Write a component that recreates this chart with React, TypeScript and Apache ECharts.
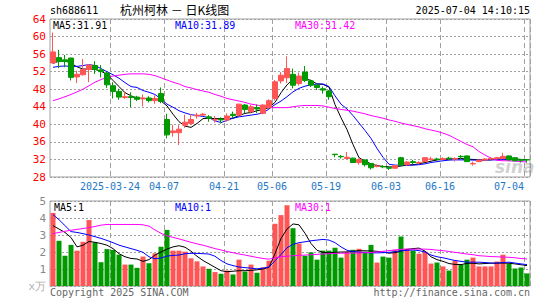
import React, { useEffect, useRef } from 'react';
import * as echarts from 'echarts';

// ---------- data ----------
const dates = [
  '2025-03-10','2025-03-11','2025-03-12','2025-03-13','2025-03-14','2025-03-17','2025-03-18','2025-03-19','2025-03-20','2025-03-21',
  '2025-03-24','2025-03-25','2025-03-26','2025-03-27','2025-03-28','2025-03-31','2025-04-01','2025-04-02','2025-04-03','2025-04-07',
  '2025-04-08','2025-04-09','2025-04-10','2025-04-11','2025-04-14','2025-04-15','2025-04-16','2025-04-17','2025-04-18','2025-04-21',
  '2025-04-22','2025-04-23','2025-04-24','2025-04-25','2025-04-28','2025-04-29','2025-04-30','2025-05-06','2025-05-07','2025-05-08',
  '2025-05-09','2025-05-12','2025-05-13','2025-05-14','2025-05-15','2025-05-16','2025-05-19','2025-05-20','2025-05-21','2025-05-22',
  '2025-05-23','2025-05-26','2025-05-27','2025-05-28','2025-05-29','2025-05-30','2025-06-03','2025-06-04','2025-06-05','2025-06-06',
  '2025-06-09','2025-06-10','2025-06-11','2025-06-12','2025-06-13','2025-06-16','2025-06-17','2025-06-18','2025-06-19','2025-06-20',
  '2025-06-23','2025-06-24','2025-06-25','2025-06-26','2025-06-27','2025-06-30','2025-07-01','2025-07-02','2025-07-03','2025-07-04',
];

// [open, close, low, high]
const ohlc = [
  [54.0, 56.5, 53.8, 60.9], [55.2, 54.3, 52.8, 57.0], [54.7, 54.3, 53.0, 55.8], [55.1, 50.7, 50.0, 55.2], [50.8, 51.4, 49.4, 52.2],
  [51.3, 52.5, 51.1, 54.9], [52.5, 53.5, 49.6, 53.7], [53.4, 52.5, 51.5, 54.4], [52.4, 52.0, 50.7, 53.5], [51.7, 49.0, 48.3, 52.0],
  [48.8, 47.5, 45.9, 49.6], [47.5, 46.2, 45.6, 48.1], [46.1, 46.3, 45.8, 47.5], [46.3, 46.1, 43.9, 47.3], [46.2, 45.7, 45.3, 46.5],
  [45.8, 46.0, 44.1, 46.8], [46.0, 45.4, 45.0, 46.4], [45.4, 45.9, 44.7, 46.6], [47.0, 45.2, 44.8, 48.4], [41.1, 37.6, 36.8, 42.4],
  [38.1, 38.5, 37.2, 39.9], [38.1, 38.9, 35.3, 39.8], [39.8, 40.5, 39.2, 42.2], [40.2, 41.1, 39.8, 42.4], [41.9, 42.1, 41.3, 42.6],
  [42.1, 42.3, 41.8, 42.6], [41.7, 41.4, 40.6, 42.1], [41.0, 41.1, 40.4, 41.9], [41.2, 41.0, 40.2, 41.6], [41.0, 41.9, 40.6, 42.5],
  [42.3, 42.0, 41.4, 42.9], [42.1, 44.6, 41.9, 44.7], [44.4, 43.4, 42.5, 44.6], [42.9, 44.0, 42.5, 44.4], [43.8, 43.5, 42.6, 44.5],
  [42.5, 44.4, 42.3, 44.6], [43.8, 45.4, 43.6, 45.7], [45.9, 49.7, 45.4, 50.1], [49.9, 51.2, 49.3, 51.9], [50.6, 52.7, 49.4, 55.5],
  [51.4, 48.9, 48.2, 52.7], [49.3, 51.0, 48.8, 51.8], [51.9, 50.0, 49.6, 53.3], [49.9, 48.9, 48.5, 50.2], [48.9, 48.4, 47.8, 49.3],
  [48.1, 47.8, 47.0, 48.6], [47.6, 46.3, 45.6, 47.8], [33.2, 33.1, 32.5, 33.2], [32.7, 32.6, 32.2, 33.0], [32.2, 32.5, 32.1, 33.7],
  [32.3, 31.3, 31.2, 32.4], [31.3, 32.0, 30.8, 32.2], [31.9, 30.8, 30.4, 32.0], [31.1, 30.1, 29.7, 31.2], [30.4, 30.5, 30.2, 30.9],
  [30.4, 30.3, 30.0, 30.7], [30.1, 30.0, 29.6, 30.5], [30.0, 30.6, 29.9, 30.7], [32.4, 30.7, 30.6, 32.6], [30.8, 31.4, 30.6, 31.6],
  [31.5, 31.3, 30.9, 31.9], [31.2, 31.3, 30.9, 31.6], [31.5, 32.4, 31.4, 32.5], [32.0, 32.1, 31.8, 32.6], [32.1, 32.0, 31.6, 32.4],
  [32.0, 32.2, 31.9, 32.5], [32.3, 32.2, 31.8, 32.6], [32.1, 32.2, 31.5, 32.5], [32.7, 32.6, 32.1, 33.0], [32.8, 31.5, 31.4, 32.9],
  [31.0, 31.1, 30.6, 31.5], [31.5, 31.85, 31.4, 31.9], [31.85, 32.1, 31.8, 32.3], [32.1, 32.2, 31.9, 32.5], [32.2, 32.4, 32.0, 32.6],
  [32.2, 32.7, 32.1, 33.5], [32.8, 31.9, 31.8, 32.9], [32.4, 31.7, 31.6, 32.5], [32.0, 31.8, 31.3, 32.1], [31.95, 31.9, 31.3, 32.0],
];

const ma5 = [
  53.9, 54.4, 54.5, 53.9, 53.1, 52.6, 52.6, 52.5, 52.1, 51.4,
  50.0, 48.6, 47.2, 46.5, 46.0, 45.9, 45.8, 45.8, 45.3, 44.2,
  42.3, 40.6, 39.6, 39.3, 40.2, 41.3, 41.4, 41.3, 41.3, 41.3,
  41.4, 42.0, 42.5, 42.7, 43.1, 43.4, 43.8, 45.0, 47.2, 49.0,
  50.3, 50.6, 50.4, 50.0, 49.2, 49.1, 48.5, 44.5, 41.5, 38.8,
  35.4, 32.4, 31.6, 31.0, 30.6, 30.4, 30.3, 30.3, 30.5, 30.7,
  30.8, 31.0, 31.3, 31.6, 31.9, 32.0, 32.1, 32.2, 32.2, 32.1,
  32.0, 31.9, 31.9, 31.9, 32.1, 32.2, 32.2, 32.1, 32.0, 31.91,
];
const ma10 = [
  53.0, 53.2, 53.3, 53.2, 53.2, 53.4, 53.6, 53.4, 52.7, 52.0,
  51.3, 50.5, 49.5, 48.6, 48.4, 47.7, 47.3, 46.8, 45.8, 44.6,
  43.9, 43.1, 42.6, 42.2, 42.0, 41.8, 41.5, 40.8, 40.4, 40.9,
  41.4, 41.7, 41.9, 42.1, 42.3, 42.6, 43.5, 44.5, 45.3, 46.3,
  47.4, 48.2, 48.7, 49.0, 49.2, 49.2, 48.6, 46.5, 44.6, 43.5,
  42.0, 40.3, 38.6, 36.8, 34.5, 32.5, 30.9, 30.7, 30.7, 30.7,
  30.7, 30.8, 31.0, 31.3, 31.5, 31.7, 31.85, 31.9, 31.9, 31.9,
  31.85, 31.85, 31.85, 31.9, 31.9, 31.95, 32.0, 32.0, 31.95, 31.89,
];
const ma30 = [
  45.4, 45.8, 46.3, 46.8, 47.4, 48.0, 48.8, 49.6, 50.2, 50.7,
  51.0, 51.2, 51.4, 51.5, 51.5, 51.5, 51.4, 51.1, 50.6, 50.1,
  49.6, 49.2, 48.6, 48.3, 47.9, 47.6, 47.3, 46.8, 46.4, 45.9,
  45.6, 45.3, 45.0, 44.6, 44.4, 44.1, 43.8, 43.8, 43.8, 43.8,
  44.0, 44.2, 44.3, 44.3, 44.3, 44.2, 43.9, 43.6, 43.4, 43.2,
  43.0, 42.7, 42.4, 42.0, 41.7, 41.4, 41.0, 40.7, 40.3, 40.0,
  39.7, 39.4, 39.0, 38.7, 38.4, 38.0, 37.5, 36.8, 36.1, 35.4,
  34.9, 33.8, 33.0, 32.3, 31.8, 31.7, 31.7, 31.6, 31.5, 31.42,
];

// volume, 万手
const volumes = [
  4.3, 2.66, 1.78, 2.42, 2.08, 2.6, 3.88, 2.56, 1.4, 2.17,
  2.12, 1.84, 1.26, 1.26, 1.07, 1.73, 1.34, 1.92, 2.31, 3.3,
  2.08, 2.08, 2.02, 1.63, 1.45, 1.15, 1.01, 0.82, 0.72, 0.91,
  0.68, 1.55, 0.85, 1.26, 0.78, 1.1, 1.49, 3.66, 4.17, 4.75,
  3.4, 2.5, 1.78, 1.98, 1.55, 2.08, 2.08, 2.25, 1.67, 2.02,
  2.13, 2.19, 2.02, 2.42, 1.38, 1.73, 1.67, 2.13, 2.91, 2.19,
  2.08, 1.9, 2.02, 1.32, 1.38, 1.15, 0.91, 1.49, 1.26, 1.55,
  1.67, 1.15, 1.15, 1.15, 1.44, 1.84, 1.32, 1.03, 1.09, 0.74,
];
const vma5 = [
  3.55, 3.35, 3.15, 2.85, 2.3, 2.4, 2.62, 2.57, 2.5, 2.4,
  2.2, 1.9, 1.72, 1.62, 1.59, 1.45, 1.55, 1.82, 2.0, 2.17,
  2.3, 2.37, 2.28, 2.05, 1.75, 1.5, 1.3, 1.1, 0.9, 0.84,
  0.87, 0.9, 0.9, 0.92, 0.95, 1.0, 1.1, 1.9, 2.8, 3.35,
  3.65, 3.6, 3.1, 2.5, 2.1, 1.98, 1.95, 1.98, 2.0, 2.0,
  2.04, 2.08, 2.07, 2.06, 2.04, 2.0, 1.93, 1.96, 2.05, 2.15,
  2.2, 2.23, 2.05, 1.72, 1.55, 1.45, 1.32, 1.27, 1.26, 1.33,
  1.34, 1.3, 1.32, 1.34, 1.34, 1.35, 1.34, 1.3, 1.25, 1.2,
];
const vma10 = [
  4.2, 3.9, 3.55, 3.2, 3.15, 3.08, 3.0, 2.9, 2.8, 2.68,
  2.55, 2.4, 2.3, 2.2, 2.1, 1.98, 1.72, 1.6, 1.65, 1.76,
  1.8, 1.82, 1.9, 1.92, 1.92, 1.9, 1.88, 1.75, 1.5, 1.3,
  1.2, 1.12, 1.08, 1.05, 1.01, 1.05, 1.12, 1.48, 1.85, 2.25,
  2.45, 2.55, 2.6, 2.66, 2.7, 2.74, 2.7, 2.55, 2.3, 2.1,
  2.03, 1.99, 1.97, 1.95, 1.95, 1.96, 1.98, 2.02, 2.07, 2.1,
  2.12, 2.08, 2.0, 1.82, 1.72, 1.66, 1.58, 1.5, 1.45, 1.4,
  1.4, 1.4, 1.38, 1.35, 1.35, 1.38, 1.4, 1.35, 1.3, 1.26,
];
const vma30 = [
  3.08, 3.15, 3.22, 3.28, 3.33, 3.38, 3.44, 3.5, 3.58, 3.62,
  3.62, 3.62, 3.62, 3.62, 3.62, 3.6, 3.52, 3.3, 3.1, 2.95,
  2.86, 2.77, 2.67, 2.57, 2.48, 2.4, 2.3, 2.2, 2.12, 2.03,
  1.96, 1.88, 1.82, 1.75, 1.68, 1.62, 1.58, 1.65, 1.72, 1.75,
  1.78, 1.8, 1.82, 1.84, 1.86, 1.88, 1.9, 1.92, 1.93, 1.93,
  1.94, 1.94, 1.96, 1.97, 2.0, 2.04, 2.08, 2.12, 2.16, 2.17,
  2.17, 2.17, 2.17, 2.15, 2.11, 2.08, 2.03, 1.98, 1.93, 1.88,
  1.84, 1.78, 1.76, 1.73, 1.72, 1.7, 1.69, 1.66, 1.62, 1.59,
];

const tickDates = ['2025-03-24', '2025-04-07', '2025-04-21', '2025-05-06', '2025-05-19', '2025-06-03', '2025-06-16', '2025-07-04'];
const tickLabels = ['2025-03-24', '04-07', '04-21', '05-06', '05-19', '06-03', '06-16', '07-04'];

const priceMin = 28;
const priceMax = 64;
const priceStep = 4;
const volMin = 0;
const volMax = 5;
const volStep = 1;

const headerCode = 'sh688611';
const headerTitle = '杭州柯林 － 日K线图';
const headerTime = '2025-07-04 14:10:15';
const maTexts = ['MA5:31.91', 'MA10:31.89', 'MA30:31.42'];
const vmaTexts = ['MA5:1', 'MA10:1', 'MA30:1'];

// ---------- style ----------
const RED = '#FF5555';
const GREEN = '#009A00';
const MONO = 'DejaVu Sans Mono, Liberation Mono, monospace';
const GRID_COLOR = '#A0A0A0';

export default function App() {
  const ref = useRef<HTMLDivElement>(null);

  useEffect(() => {
    if (!ref.current) return;
    const chart = echarts.init(ref.current, undefined, { renderer: 'svg' });

    const labelMap: Record<string, string> = {};
    tickDates.forEach((d, k) => { labelMap[d] = tickLabels[k]; });
    const lastDate = tickDates[tickDates.length - 1];
    const isTick = (_i: number, v: string) => labelMap[v] !== undefined;

    const volData = volumes.map((v, i) => ({
      value: v,
      itemStyle: { color: ohlc[i][1] >= ohlc[i][0] ? RED : GREEN },
    }));

    const line = (name: string, data: number[], color: string, xi: number, yi: number) => ({
      name,
      type: 'line',
      data,
      xAxisIndex: xi,
      yAxisIndex: yi,
      showSymbol: false,
      symbol: 'none',
      lineStyle: { color, width: 1 },
      itemStyle: { color },
      z: 3,
      silent: true,
    });

    const option: any = {
      animation: false,
      backgroundColor: '#ffffff',
      grid: [
        { left: 50, top: 19, width: 480, height: 158, show: true, borderColor: GRID_COLOR, borderWidth: 1, backgroundColor: 'transparent' },
        { left: 50, top: 201, width: 480, height: 85, show: true, borderColor: GRID_COLOR, borderWidth: 1, backgroundColor: 'transparent' },
      ],
      xAxis: [
        {
          type: 'category',
          gridIndex: 0,
          data: dates,
          boundaryGap: true,
          axisLine: { show: false },
          axisTick: { show: false },
          axisLabel: {
            interval: isTick,
            margin: 4,
            fontFamily: MONO,
            fontSize: 10,
            color: '#1E78C8',
            formatter: (v: string) => (v === lastDate ? `{r|${labelMap[v]}}` : `{n|${labelMap[v] || ''}}`),
            rich: {
              n: { padding: [0, 6, 0, 0], fontFamily: MONO, fontSize: 10, color: '#1E78C8' },
              r: { padding: [0, 36, 0, 0], fontFamily: MONO, fontSize: 10, color: '#1E78C8' },
            },
          },
          splitLine: { show: true, interval: isTick, lineStyle: { color: GRID_COLOR, type: [5, 3], width: 1 } },
        },
        {
          type: 'category',
          gridIndex: 1,
          data: dates,
          boundaryGap: true,
          axisLine: { show: false },
          axisTick: { show: false },
          axisLabel: { show: false },
          splitLine: { show: true, interval: isTick, lineStyle: { color: GRID_COLOR, type: [5, 3], width: 1 } },
        },
      ],
      yAxis: [
        {
          type: 'value',
          gridIndex: 0,
          min: priceMin,
          max: priceMax,
          interval: priceStep,
          axisLine: { show: false },
          axisTick: { show: false },
          axisLabel: { margin: 4, fontFamily: MONO, fontSize: 11, color: '#FF0000' },
          splitLine: { show: true, lineStyle: { color: GRID_COLOR, type: [2, 2], width: 1 } },
        },
        {
          type: 'value',
          gridIndex: 1,
          min: volMin,
          max: volMax,
          interval: volStep,
          axisLine: { show: false },
          axisTick: { show: false },
          axisLabel: {
            margin: 4,
            fontFamily: MONO,
            fontSize: 11,
            color: (v: any) => (Number(v) === 0 ? '#B0B0B0' : '#888888'),
            formatter: (v: number) => (v === 0 ? 'x万' : String(v)),
          },
          splitLine: { show: true, lineStyle: { color: GRID_COLOR, type: [2, 2], width: 1 } },
        },
      ],
      series: [
        {
          name: 'K',
          type: 'candlestick',
          xAxisIndex: 0,
          yAxisIndex: 0,
          data: ohlc,
          barWidth: 5,
          z: 4,
          silent: true,
          itemStyle: { color: RED, color0: GREEN, borderColor: RED, borderColor0: GREEN, borderWidth: 1 },
        },
        line('MA5', ma5, '#000000', 0, 0),
        line('MA10', ma10, '#0000FF', 0, 0),
        line('MA30', ma30, '#FF00FF', 0, 0),
        {
          name: 'VOL',
          type: 'bar',
          xAxisIndex: 1,
          yAxisIndex: 1,
          data: volData,
          barWidth: 5,
          silent: true,
          z: 2,
        },
        line('VMA5', vma5, '#000000', 1, 1),
        line('VMA10', vma10, '#0000FF', 1, 1),
        line('VMA30', vma30, '#FF00FF', 1, 1),
      ],
      graphic: [
        { type: 'text', left: 50, top: 5, style: { text: headerCode, font: `10px ${MONO}`, fill: '#000' } },
        { type: 'text', left: 120, top: 3, style: { text: headerTitle, font: '12px "Noto Sans CJK SC"', fill: '#000' } },
        { type: 'text', right: 15, top: 5, style: { text: headerTime, font: `10px ${MONO}`, fill: '#000' } },
        { type: 'text', left: 53, top: 20, z: 10, style: { text: maTexts[0], font: `10px ${MONO}`, fill: '#000' } },
        { type: 'text', left: 175, top: 20, z: 10, style: { text: maTexts[1], font: `10px ${MONO}`, fill: '#0000FF' } },
        { type: 'text', left: 295, top: 20, z: 10, style: { text: maTexts[2], font: `10px ${MONO}`, fill: '#FF00FF' } },
        { type: 'text', left: 54, top: 202, z: 10, style: { text: vmaTexts[0], font: `10px ${MONO}`, fill: '#000' } },
        { type: 'text', left: 175, top: 202, z: 10, style: { text: vmaTexts[1], font: `10px ${MONO}`, fill: '#0000FF' } },
        { type: 'text', left: 295, top: 202, z: 10, style: { text: vmaTexts[2], font: `10px ${MONO}`, fill: '#FF00FF' } },
        { type: 'text', left: 495, top: 158, z: 1, style: { text: 'sina', font: 'italic bold 17px "DejaVu Sans"', fill: 'rgba(150,150,150,0.45)' } },
        { type: 'text', left: 50, top: 287, style: { text: 'Copyright 2025 SINA.COM', font: `10px ${MONO}`, fill: '#666' } },
        { type: 'text', right: 15, top: 287, style: { text: 'http://finance.sina.com.cn', font: `10px ${MONO}`, fill: '#666' } },
      ],
    };

    chart.setOption(option);
    return () => chart.dispose();
  }, []);

  return (
    <div
      ref={ref}
      style={{ position: 'absolute', left: 0, top: 0, width: 545, height: 300, background: '#fff' }}
    />
  );
}
